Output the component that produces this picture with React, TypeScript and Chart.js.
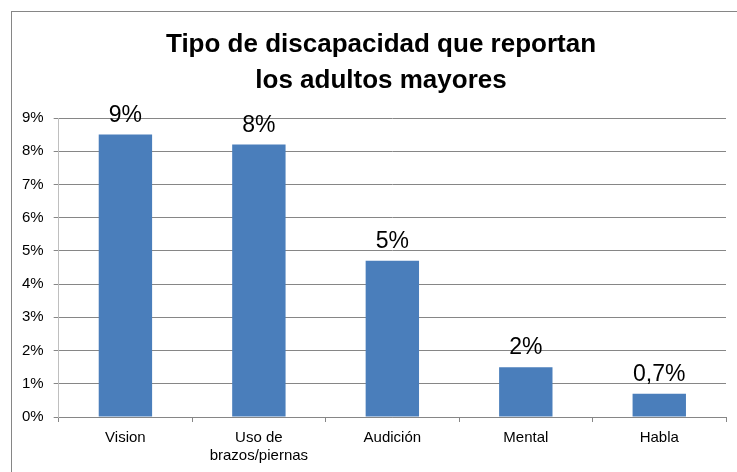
import React, { useEffect, useRef } from "react";
import { Chart, registerables } from "chart.js";

Chart.register(...registerables);

const titleLines = ["Tipo de discapacidad que reportan", "los adultos mayores"];
const categories: (string | string[])[] = ["Vision", ["Uso de", "brazos/piernas"], "Audición", "Mental", "Habla"];
const values = [8.5, 8.2, 4.7, 1.5, 0.7];
const valueLabels = ["9%", "8%", "5%", "2%", "0,7%"];
const yTicks = [0, 1, 2, 3, 4, 5, 6, 7, 8, 9];

const FONT = "'Liberation Sans', Arial, sans-serif";

const decorPlugin = {
  id: "decor",
  beforeDraw(chart: any) {
    const ctx = chart.ctx;
    ctx.save();
    ctx.fillStyle = "#ffffff";
    ctx.fillRect(0, 0, chart.width, chart.height);
    ctx.strokeStyle = "#868686";
    ctx.lineWidth = 1;
    ctx.strokeRect(11.5, 11.5, chart.width + 20, chart.height + 20);
    ctx.fillStyle = "#000000";
    ctx.font = `bold 26px ${FONT}`;
    ctx.textAlign = "center";
    ctx.textBaseline = "alphabetic";
    ctx.fillText(titleLines[0], 381, 52);
    ctx.fillText(titleLines[1], 381, 88);
    ctx.restore();
  },
  afterDatasetsDraw(chart: any) {
    const ctx = chart.ctx;
    const meta = chart.getDatasetMeta(0);
    ctx.save();
    ctx.fillStyle = "#000000";
    ctx.font = `23px ${FONT}`;
    ctx.textAlign = "center";
    ctx.textBaseline = "alphabetic";
    meta.data.forEach((bar: any, i: number) => {
      ctx.fillText(valueLabels[i], bar.x, bar.y - 13);
    });
    ctx.restore();
  },
};

export default function App() {
  const ref = useRef<HTMLCanvasElement>(null);
  useEffect(() => {
    document.body.style.margin = "0";
    const chart = new Chart(ref.current!, {
      type: "bar",
      data: {
        labels: categories,
        datasets: [
          {
            data: values,
            backgroundColor: "#4A7EBB",
            borderWidth: 0,
            categoryPercentage: 0.8,
            barPercentage: 0.5,
          },
        ],
      },
      options: {
        animation: false,
        responsive: false,
        layout: { padding: { top: 118, left: 12, right: 11, bottom: 0 } },
        plugins: { legend: { display: false }, tooltip: { enabled: false }, title: { display: false } },
        scales: {
          x: {
            grid: { display: true, drawOnChartArea: false, offset: true, tickLength: 5, color: "#868686" },
            border: { color: "#868686" },
            ticks: { color: "#000", font: { family: FONT, size: 15 }, padding: 7, maxRotation: 0 },
          },
          y: {
            min: 0,
            max: 9,
            afterBuildTicks: (axis: any) => {
              axis.ticks = yTicks.map((v) => ({ value: v }));
            },
            grid: { color: "#868686", tickLength: 5 },
            border: { color: "#BFBFBF" },
            ticks: {
              color: "#000",
              font: { family: FONT, size: 15 },
              padding: 10,
              callback: (v: any) => `${v}%`,
            },
          },
        },
      },
      plugins: [decorPlugin],
    });
    return () => chart.destroy();
  }, []);
  return (
    <div style={{ width: 737, height: 472 }}>
      <canvas ref={ref} width={737} height={472} style={{ width: 737, height: 472, display: "block" }} />
    </div>
  );
}
